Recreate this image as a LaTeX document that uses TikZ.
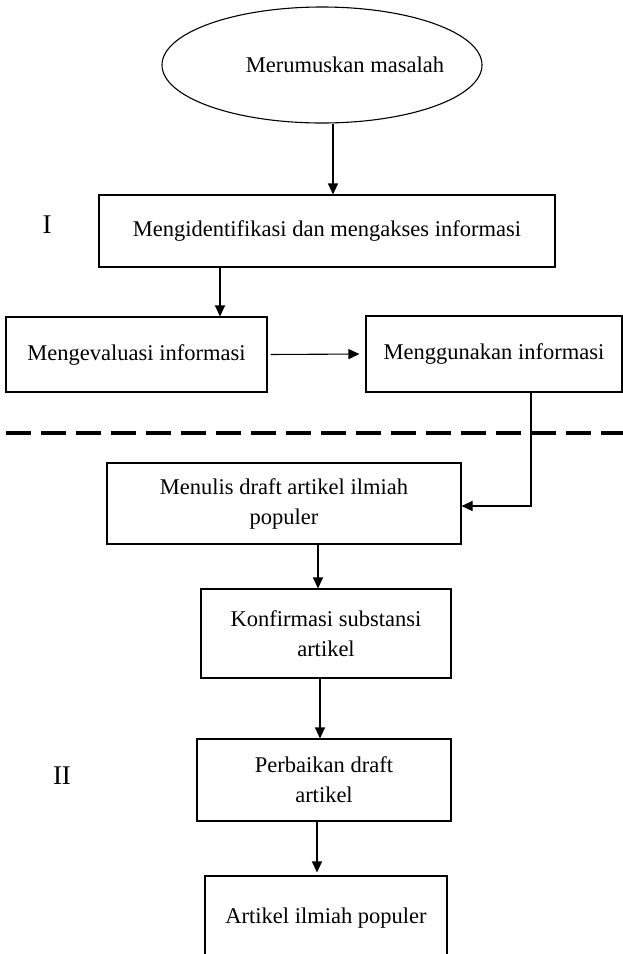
\documentclass[tikz,border=0pt]{standalone}
\usepackage{fontspec}
\setmainfont{Liberation Serif}
\usetikzlibrary{shapes.geometric,arrows.meta}
\begin{document}
\begin{tikzpicture}[x=1pt,y=-1pt,
  every node/.style={font=\fontsize{22.5}{30}\selectfont},
  boxnode/.style={draw,line width=1.1pt,rectangle,inner sep=0pt,align=center},
  arr/.style={line width=1.1pt,-{Triangle[width=10pt,length=11pt]}},
  sectlabel/.style={inner sep=0pt,font=\fontsize{27}{27}\selectfont}]
\useasboundingbox (0,0) rectangle (623,954);
\clip (0,0) rectangle (623,954);
% top ellipse
\node[draw,ellipse,line width=1.1pt,minimum width=320pt,minimum height=116pt,inner sep=0pt] (ell) at (322,65) {};
\node[inner sep=0pt] (ellText) at (345,65) {Merumuskan masalah};
% part I
\node[boxnode,minimum width=456pt,minimum height=72pt] (b1) at (327,231) {Mengidentifikasi dan mengakses informasi};
\node[boxnode,minimum width=261pt,minimum height=75pt] (b2) at (136.5,354.5) {Mengevaluasi informasi};
\node[boxnode,minimum width=256pt,minimum height=76pt] (b3) at (494,354) {Menggunakan informasi};
\node[sectlabel] (lI) at (47,225) {I};
% separator
\coordinate (dl) at (0,433);
\coordinate (dr) at (623,433);
\draw[line width=3.5pt,dash pattern=on 25pt off 10pt,dash phase=29pt] (dl) -- (dr);
% part II
\node[boxnode,minimum width=354pt,minimum height=81pt] (b4) at (284,503.5) {Menulis draft artikel ilmiah\\populer};
\node[boxnode,minimum width=250pt,minimum height=89pt] (b5) at (326,633.5) {Konfirmasi substansi\\artikel};
\node[boxnode,minimum width=254pt,minimum height=82pt] (b6) at (324,780) {Perbaikan draft\\artikel};
\node[boxnode,minimum width=242pt,minimum height=84pt] (b7) at (326,918) {Artikel ilmiah populer};
\node[sectlabel] (lII) at (62,776) {II};
% connectors
\draw[arr] ([xshift=11pt]ell.south) -- ([xshift=11pt]ell.south |- b1.north);
\draw[arr] ([xshift=-107pt]b1.south) -- ([xshift=-107pt]b1.south |- b2.north);
\draw[arr,shorten <=3pt,shorten >=6pt] (b2.east) -- (b3.west);
\draw[arr] ([xshift=37pt]b3.south) |- ([yshift=-2.5pt]b4.east);
\draw[arr] ([xshift=34pt]b4.south) -- ([xshift=34pt]b4.south |- b5.north);
\draw[arr] ([xshift=-6pt]b5.south) -- ([xshift=-6pt]b5.south |- b6.north);
\draw[arr,shorten >=3pt] ([xshift=-7pt]b6.south) -- ([xshift=-7pt]b6.south |- b7.north);
\end{tikzpicture}
\end{document}
